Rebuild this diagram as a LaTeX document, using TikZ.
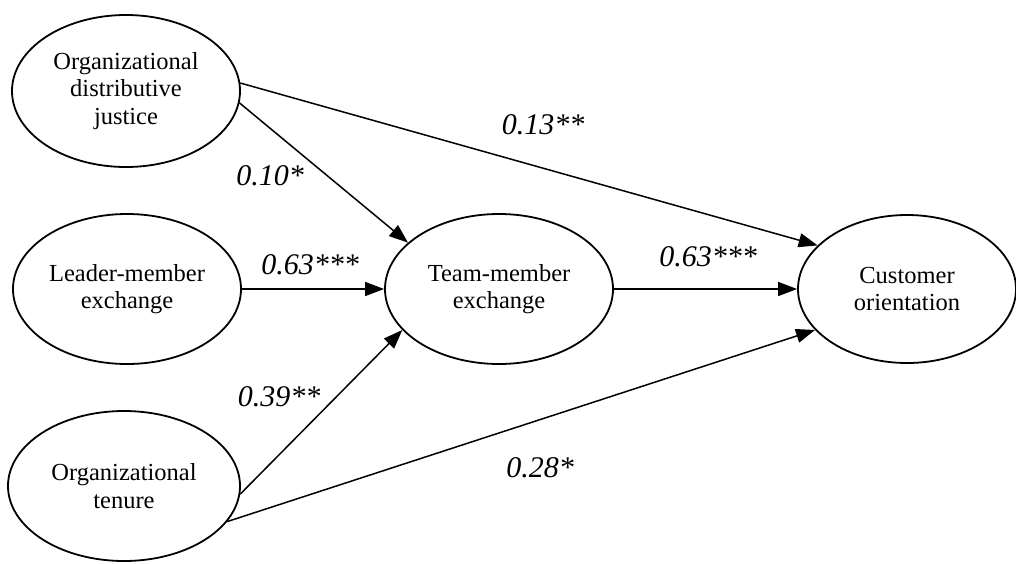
\documentclass[tikz,border=0pt]{standalone}
\usepackage{fontspec}
\setmainfont{Liberation Serif}
\usetikzlibrary{shapes.geometric,arrows.meta}
\begin{document}
\begin{tikzpicture}[x=1pt,y=-1pt,
  var/.style={draw,ellipse,line width=1.8pt,inner sep=0pt,align=center,
    font=\fontsize{24.5}{27.5}\selectfont},
  path/.style={line width=1.5pt,-{Triangle[length=19pt,width=14pt]}},
  coef/.style={font=\fontsize{30}{32}\selectfont\itshape,inner sep=0pt}]
\useasboundingbox (0,0) rectangle (1016,563);
\node[var,minimum width=228pt,minimum height=152pt] (odj) at (126,91) {Organizational\\distributive\\justice};
\node[var,minimum width=228pt,minimum height=150pt] (lmx) at (127,289) {Leader-member\\exchange};
\node[var,minimum width=232pt,minimum height=150pt] (ten) at (124,486) {Organizational\\tenure};
\node[var,minimum width=228pt,minimum height=150pt] (tmx) at (499,289) {Team-member\\exchange};
\node[var,minimum width=218pt,minimum height=148pt] (co) at (907,289) {Customer\\orientation};
\draw[path] (odj.4.5) -- (co.154);
\draw[path] (odj.-6) -- (tmx.153);
\draw[path] (lmx.east) -- (tmx.west);
\draw[path] (tmx.east) -- (co.west);
\draw[path] (ten.-4.5) -- (tmx.203);
\draw[path] (ten.-19) -- (co.204);
\node[coef] (c1) at (543,125) {0.13**};
\node[coef] (c2) at (270,176) {0.10*};
\node[coef] (c3) at (310,265) {0.63***};
\node[coef] (c4) at (708,257) {0.63***};
\node[coef] (c5) at (279,397) {0.39**};
\node[coef] (c6) at (540,468) {0.28*};
\end{tikzpicture}
\end{document}
